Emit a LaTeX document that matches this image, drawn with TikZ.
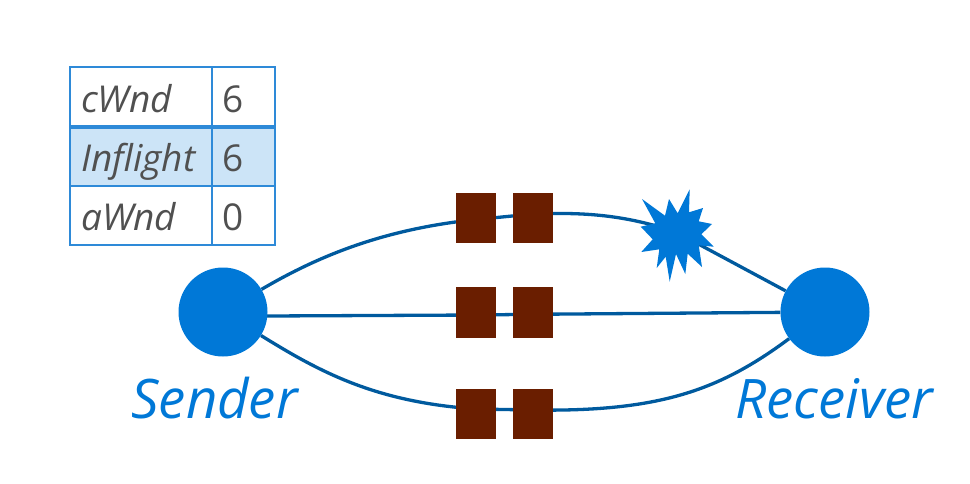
\documentclass[tikz,border=0pt]{standalone}
\usepackage{fontspec}
\setmainfont{Open Sans}
\usetikzlibrary{backgrounds}
\definecolor{nodeblue}{HTML}{0078D7}
\definecolor{linkblue}{HTML}{005A9E}
\definecolor{router}{HTML}{6A1E00}
\definecolor{rowfill}{HTML}{CCE4F7}
\definecolor{gridblue}{HTML}{2E8AD8}
\definecolor{celltext}{HTML}{505050}
\tikzset{
  x=1pt,y=-1pt,
  host/.style={circle,fill=nodeblue,minimum size=89pt,inner sep=0pt},
  hostlabel/.style={text=nodeblue,font=\fontsize{54.5}{54.5}\selectfont\itshape,inner sep=0pt,anchor=base},
  routerbox/.style={fill=router,minimum width=40pt,minimum height=50pt,inner sep=0pt},
  link/.style={draw=linkblue,line width=3.3pt},
  grid/.style={draw=gridblue,line width=1.8pt},
  cellname/.style={text=celltext,font=\fontsize{37}{37}\selectfont\itshape,inner sep=0pt,anchor=base west},
  cellvalue/.style={text=celltext,font=\fontsize{37}{37}\selectfont,inner sep=0pt,anchor=base west},
}
\begin{document}
\begin{tikzpicture}
\useasboundingbox (0,0) rectangle (970,483);
% table
\fill[rowfill] (70,127) rectangle (275,186);
\draw[grid] (70,67) rectangle (275,245);
\draw[grid] (212,67) -- (212,245);
\draw[grid,line width=3.4pt] (70,127) -- (275,127);
\draw[grid] (70,186) -- (275,186);
\node[cellname] (n1) at (81,112) {cWnd};
\node[cellname] (n2) at (81,171) {Inflight};
\node[cellname] (n3) at (81,230) {aWnd};
\node[cellvalue] (v1) at (222.5,112) {6};
\node[cellvalue] (v2) at (222.5,171) {6};
\node[cellvalue] (v3) at (222.5,230) {0};
% hosts
\node[host] (s) at (223,312) {};
\node[host] (r) at (825,312) {};
\node[hostlabel] (sl) at (214.5,418) {Sender};
\node[hostlabel] (rl) at (834.5,418) {Receiver};
% routers
\node[routerbox] (a1) at (476,218) {};
\node[routerbox] (a2) at (533,218) {};
\node[routerbox,minimum height=51pt] (b1) at (476,312.5) {};
\node[routerbox,minimum height=51pt] (b2) at (533,312.5) {};
\node[routerbox] (c1) at (476,414) {};
\node[routerbox] (c2) at (533,414) {};
% where the links pass behind the routers
\coordinate (a1p) at (476,219.5);
\coordinate (a2p) at (533,214);
\coordinate (b1p) at (476,315);
\coordinate (b2p) at (533,314.3);
\coordinate (c1p) at (476,409);
\coordinate (c2p) at (533,410);
% loss mark
\coordinate (loss) at (676,232);
\fill[nodeblue] (642,199) -- (665,215.7) -- (669,199) -- (677.7,213.3) -- (689.7,189.3)
  -- (689,212.3) -- (703,208) -- (698.7,221.3) -- (712,224) -- (701.3,234.3) -- (713.7,246.7)
  -- (698.7,245.3) -- (702,267) -- (687.7,253.7) -- (685.3,274) -- (676,254) -- (669.7,281.7)
  -- (665.7,256.7) -- (656.7,268) -- (659.3,249.3) -- (641.3,252) -- (652.7,239.3)
  -- (640.7,226.7) -- (655.3,223.3) -- cycle;
% links
\begin{scope}[on background layer]
\draw[link] (s) .. controls (320,255) and (385,229) .. (a1p);
\draw[link] (a1p) -- (a2p);
\draw[link] (a2p) .. controls (585,212) and (625,215) .. (loss);
\draw[link] (loss) -- (r);
\draw[link] (s.center) ++(44,4) -- (b1p);
\draw[link] (b1p) -- (b2p);
\draw[link] (b2p) -- (r);
\draw[link] (s) .. controls (320,372) and (375,402) .. (c1p);
\draw[link] (c1p) -- (c2p);
\draw[link] (c2p) .. controls (660,412) and (720,390) .. (r);
\end{scope}
\end{tikzpicture}
\end{document}
